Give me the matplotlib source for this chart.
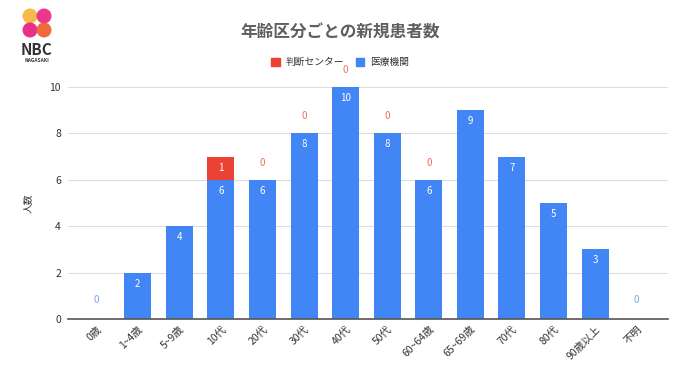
import matplotlib
matplotlib.use("Agg")
import matplotlib.pyplot as plt
from matplotlib.patches import Circle, Patch
import numpy as np

plt.rcParams['font.family'] = ['Noto Sans CJK JP', 'DejaVu Sans']

# data
categories = ["0歳", "1~4歳", "5~9歳", "10代", "20代", "30代", "40代", "50代",
              "60~64歳", "65~69歳", "70代", "80代", "90歳以上", "不明"]
iryo = [0, 2, 4, 6, 6, 8, 10, 8, 6, 9, 7, 5, 3, 0]          # 医療機関
handan = [None, None, None, 1, 0, 0, 0, 0, 0, None, None, None, None, None]  # 判断センター
title = "年齢区分ごとの新規患者数"
series_names = ["判断センター", "医療機関"]
ylabel = "人数"

BLUE = "#4285F4"
RED = "#EA4335"

fig = plt.figure(figsize=(6.8, 3.82), dpi=100)
ax = fig.add_axes([0.1, 0.165, 0.882, 0.607])

x = np.arange(len(categories))
red_vals = np.array([np.nan if v is None else v for v in handan], dtype=float)
blue_vals = np.array(iryo, dtype=float)

ax.bar(x, blue_vals, width=0.65, color=BLUE, zorder=2)
ax.bar(x, red_vals, width=0.65, bottom=blue_vals, color=RED, zorder=2)

# value labels
for xi, b, r in zip(x, blue_vals, red_vals):
    if b > 0:
        ax.annotate(f"{int(b)}", (xi, b), xytext=(0, -11), textcoords="offset pixels",
                    ha="center", va="center", color="white", fontsize=7)
    else:
        ax.annotate("0", (xi, b), xytext=(0, 19), textcoords="offset pixels",
                    ha="center", va="center", color="#7ea6e8", fontsize=7)
    if not np.isnan(r):
        if r > 0:
            ax.text(xi, b + r / 2, f"{int(r)}", ha="center", va="center",
                    color="white", fontsize=7)
        else:
            ax.annotate("0", (xi, b), xytext=(0, 17), textcoords="offset pixels",
                        ha="center", va="center", color="#e8735f", fontsize=7,
                        annotation_clip=False)

ax.set_xlim(-0.68, 13.75)
ax.set_ylim(0, 10)
ax.set_yticks([0, 2, 4, 6, 8, 10])
ax.grid(axis="y", color="#dddddd", linewidth=0.8, zorder=0)
for s in ["top", "right", "left"]:
    ax.spines[s].set_visible(False)
ax.spines["bottom"].set_color("#555555")
ax.spines["bottom"].set_linewidth(1.2)
ax.spines["bottom"].set_zorder(3)
ax.tick_params(axis="both", length=0, labelsize=7.5, colors="#333333")
ax.tick_params(axis="y", pad=5)
ax.set_xticks(x)
ax.set_xticklabels(categories, rotation=45, ha="right", rotation_mode="anchor")
ax.set_ylabel(ylabel, fontsize=7, color="#333333", labelpad=12)

fig.text(0.5, 0.915, title, ha="center", va="center", fontsize=12,
         fontweight="bold", color="#5f5f5f")

handles = [Patch(color=RED), Patch(color=BLUE)]
fig.legend(handles, series_names, loc="center", bbox_to_anchor=(0.5, 0.837),
           ncol=2, frameon=False, fontsize=7, handlelength=0.9, handleheight=0.9,
           columnspacing=1.2, handletextpad=0.6, labelcolor="#333333")

# logo
lax = fig.add_axes([0, 0, 1, 1], zorder=-1)
lax.set_xlim(0, 680)
lax.set_ylim(382, 0)
lax.axis("off")
for cx, cy, c in [(30, 16, "#f7b234"), (44, 16, "#e8237f"),
                  (30, 30, "#e6197a"), (44, 30, "#f05a28")]:
    lax.add_patch(Circle((cx, cy), 7.5, color=c, alpha=0.9, lw=0))
lax.text(37, 50, "NBC", ha="center", va="center", fontsize=11,
         fontweight="bold", color="#333333")
lax.text(37, 61, "NAGASAKI", ha="center", va="center", fontsize=3.5,
         fontweight="bold", color="#333333")

fig.savefig("out.png", dpi=100)
